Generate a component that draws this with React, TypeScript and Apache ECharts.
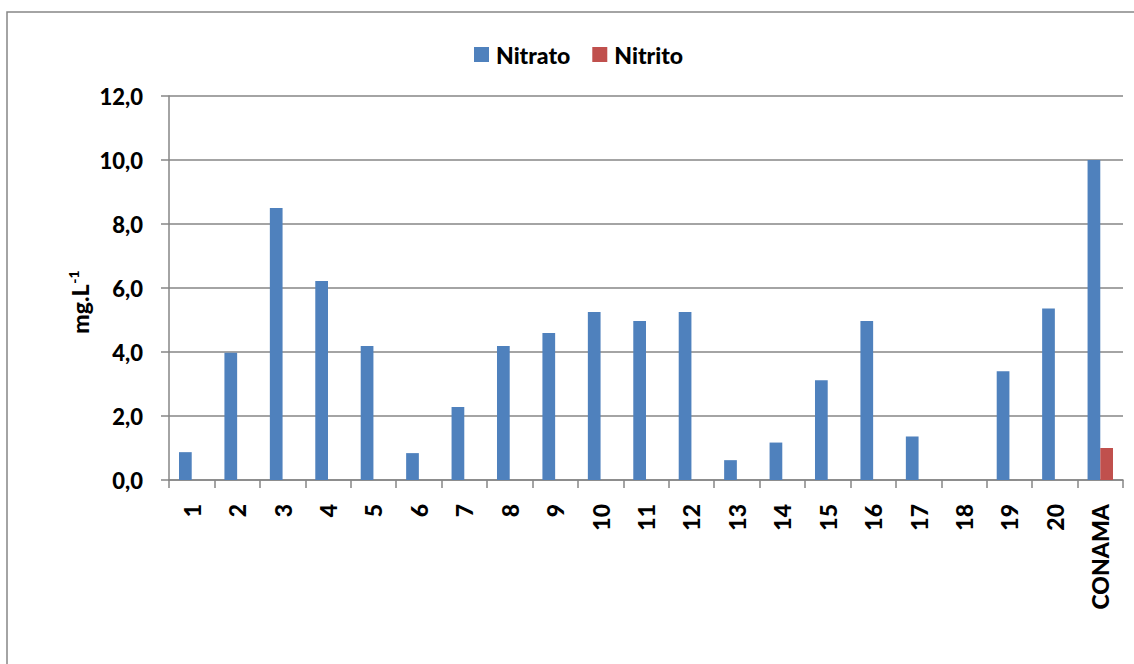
import React, { useEffect, useRef } from "react";
import * as echarts from "echarts";

const categories = ["1","2","3","4","5","6","7","8","9","10","11","12","13","14","15","16","17","18","19","20","CONAMA"];
const nitrato = [0.87, 3.98, 8.5, 6.22, 4.19, 0.84, 2.28, 4.19, 4.59, 5.25, 4.97, 5.25, 0.62, 1.17, 3.12, 4.97, 1.36, 0, 3.4, 5.36, 10.0];
const nitrito = [0, 0, 0, 0, 0, 0, 0, 0, 0, 0, 0, 0, 0, 0, 0, 0, 0, 0, 0, 0, 1.0];
const yTicks = { min: 0, max: 12, interval: 2 };

const FONT = "Lato, 'Noto Sans', sans-serif";
const GREY = "#868686";

export default function App() {
  const ref = useRef<HTMLDivElement>(null);
  useEffect(() => {
    if (!ref.current) return;
    const chart = echarts.init(ref.current, undefined, { renderer: "svg" });
    chart.setOption({
      animation: false,
      backgroundColor: "#ffffff",
      textStyle: { fontFamily: FONT },
      graphic: [
        {
          type: "rect",
          shape: { x: 7, y: 12, width: 1140, height: 670 },
          style: { fill: "none", stroke: GREY, lineWidth: 1.5 },
          silent: true,
        },
        {
          type: "text",
          x: 80,
          y: 302,
          rotation: Math.PI / 2,
          silent: true,
          style: {
            text: "{a|mg.L}{b|-1}",
            align: "center",
            verticalAlign: "middle",
            rich: {
              a: { fontFamily: FONT, fontWeight: 900, fontSize: 23, fill: "#000", lineHeight: 28 },
              b: { fontFamily: FONT, fontWeight: 900, fontSize: 14, fill: "#000", verticalAlign: "top", lineHeight: 28, padding: [0, 0, 12, 1] },
            },
          },
        },
      ],
      legend: {
        left: 469,
        top: 38,
        itemWidth: 15,
        itemHeight: 15,
        itemGap: 22,
        icon: "rect",
        textStyle: { fontFamily: FONT, fontWeight: 900, fontSize: 23, color: "#000", padding: [0, 0, 0, 2] },
        data: ["Nitrato", "Nitrito"],
      },
      grid: { left: 169, right: 11, top: 96, bottom: 184, containLabel: false },
      xAxis: {
        type: "category",
        data: categories,
        axisLine: { lineStyle: { color: GREY, width: 1.5 } },
        axisTick: { show: true, length: 8, lineStyle: { color: GREY, width: 1.5 } },
        axisLabel: {
          rotate: 90,
          interval: 0,
          margin: 24,
          fontFamily: FONT,
          fontWeight: 900,
          fontSize: 23,
          color: "#000",
        },
      },
      yAxis: {
        type: "value",
        min: yTicks.min,
        max: yTicks.max,
        interval: yTicks.interval,
        axisLine: { show: true, lineStyle: { color: GREY, width: 1.5 } },
        axisTick: { show: true, length: 8, lineStyle: { color: GREY, width: 1.5 } },
        splitLine: { lineStyle: { color: GREY, width: 1.5 } },
        axisLabel: {
          margin: 26,
          fontFamily: FONT,
          fontWeight: 900,
          fontSize: 22,
          color: "#000",
          formatter: (v: number) => v.toFixed(1).replace(".", ","),
        },
      },
      series: [
        {
          name: "Nitrato",
          type: "bar",
          data: nitrato,
          barWidth: "28%",
          barGap: "0%",
          itemStyle: { color: "#4F81BD" },
        },
        {
          name: "Nitrito",
          type: "bar",
          data: nitrito,
          barWidth: "28%",
          barGap: "0%",
          itemStyle: { color: "#C0504D" },
        },
      ],
    });
    return () => chart.dispose();
  }, []);
  return (
    <div
      ref={ref}
      style={{ position: "fixed", left: 0, top: 0, width: 1134, height: 664 }}
    />
  );
}
